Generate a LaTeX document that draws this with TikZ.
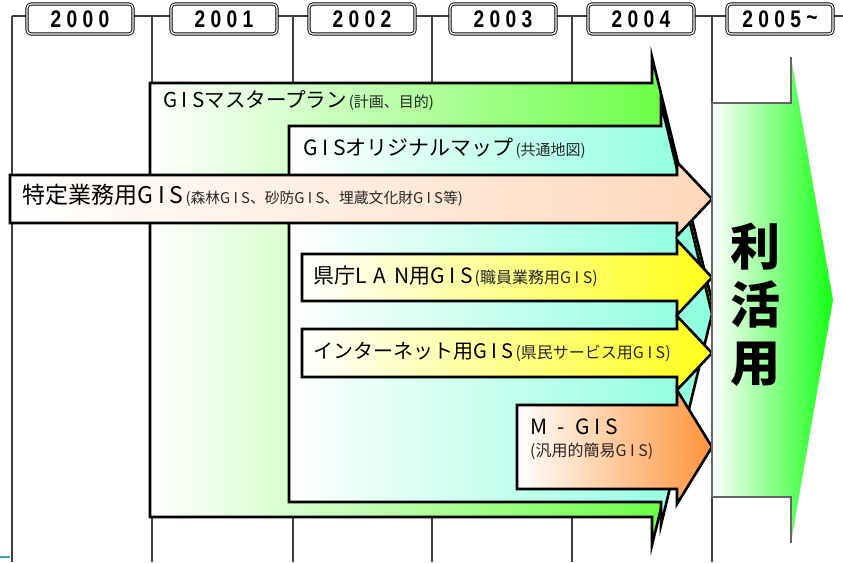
\documentclass[tikz,border=0pt]{standalone}
\usepackage{fontspec}
\newfontfamily\jp{Noto Sans CJK JP}
\newfontfamily\yearfont{Liberation Sans}[FakeStretch=0.8]
\definecolor{cGreen}{RGB}{95,255,55}
\definecolor{cCyan}{RGB}{140,255,222}
\definecolor{cPeach}{RGB}{255,216,188}
\definecolor{cYellow}{RGB}{255,255,25}
\definecolor{cOrange}{RGB}{255,148,60}
\definecolor{cBig}{RGB}{20,255,20}
\definecolor{cTeal}{RGB}{60,170,175}
\newcommand\gisx{G\kern.22em I\kern.22em S}
\newcommand\jfs[1]{\fontsize{#1}{#1}\selectfont}
\newcommand\smalltx[2]{\kern2pt{\color{black!85}\jfs{#1}#2}}
\newcommand\yr[4]{#1\kern.22em#2\kern.22em#3\kern.22em#4}
\begin{document}
\begin{tikzpicture}[x=1pt,y=-1pt,
  gridline/.style={draw=black!75, line width=1.1pt},
  arrowbox/.style={draw=black, line width=2.6pt, line join=miter},
  yearbox/.style={draw=black, rounded corners=4pt, double=white, double distance=1.3pt,
    line width=0.9pt, fill=white, minimum width=106pt, minimum height=30pt, inner sep=0pt,
    font=\yearfont\bfseries\jfs{24}},
  lbl/.style={anchor=west, inner sep=0pt, font=\jp, text=black}]
\useasboundingbox (0,0) rectangle (843,562);
% grid
\draw[gridline] (12,16) -- (843,16);
\foreach \x in {12,152,293,432,572,712} \draw[gridline] (\x,16) -- (\x,562);
\draw[cTeal, line width=2pt] (0,557) -- (10,557);
% year boxes
\node[yearbox] (y0) at (80,19) {\yr2000};
\node[yearbox] (y1) at (224,19) {\yr2001};
\node[yearbox] (y2) at (362,19) {\yr2002};
\node[yearbox] (y3) at (503,19) {\yr2003};
\node[yearbox] (y4) at (641,19) {\yr2004};
\node[yearbox] (y5) at (780,19) {\yr2005\kern.22em\raisebox{2pt}{\textasciitilde}};
% arrows
\path[arrowbox, left color=white, right color=cGreen]
  (150,83) -- (652,83) -- (652,57) -- (712,301) -- (652,545) -- (652,517) -- (150,517) -- cycle;
\path[arrowbox, left color=white, right color=cCyan]
  (289,126) -- (661,126) -- (661,103) -- (712,314) -- (661,525) -- (661,502) -- (289,502) -- cycle;
\path[arrowbox, left color=white, right color=cPeach]
  (10,175) -- (677,175) -- (677,162) -- (712,199) -- (677,236) -- (677,223) -- (10,223) -- cycle;
\path[arrowbox, left color=white, right color=cYellow]
  (302,254) -- (677,254) -- (677,240) -- (712,277.5) -- (677,315) -- (677,301) -- (302,301) -- cycle;
\path[arrowbox, left color=white, right color=cYellow]
  (302,329) -- (677,329) -- (677,316) -- (712,353) -- (677,390) -- (677,377) -- (302,377) -- cycle;
\path[arrowbox, left color=white, right color=cOrange]
  (517,405) -- (677,405) -- (677,390) -- (712,447) -- (677,504) -- (677,489) -- (517,489) -- cycle;
% big arrow
\path[left color=white, right color=cBig]
  (712,103) -- (791,103) -- (791,57) -- (833,300) -- (791,543) -- (791,497) -- (712,497) -- cycle;
\draw[black!60, line width=1.3pt] (791,57) -- (791,103) -- (712,103) -- (712,497) -- (791,497) -- (791,543);
% labels
\node[lbl] (mp) at (163,100) {\jfs{20.5}\gisx マスタープラン\smalltx{15}{(計画、目的)}};
\node[lbl] (om) at (303,148) {\jfs{21}\gisx オリジナルマップ\smalltx{15}{(共通地図)}};
\node[lbl] (tg) at (22,195) {\jfs{23}特定業務用\gisx\smalltx{14.8}{(森林\gisx、砂防\gisx、埋蔵文化財\gisx 等)}};
\node[lbl] (lan) at (313,276) {\jfs{21}県庁L\kern.35em A\kern.35em N用\gisx\smalltx{16}{(職員業務用\gisx)}};
\node[lbl] (net) at (313,352) {\jfs{20}インターネット用\gisx\smalltx{16}{(県民サービス用\gisx)}};
\node[lbl] (mg) at (530,427) {\jfs{21}M\kern.5em -\kern.5em\gisx};
\node[lbl] (mg2) at (530,451) {\color{black!85}\jfs{16}(汎用的簡易\gisx)};
\node[font=\jp\bfseries\fontsize{50}{58}\selectfont, align=center, inner sep=0pt] (ri) at (755,305)
  {利\\活\\用};
\end{tikzpicture}
\end{document}
